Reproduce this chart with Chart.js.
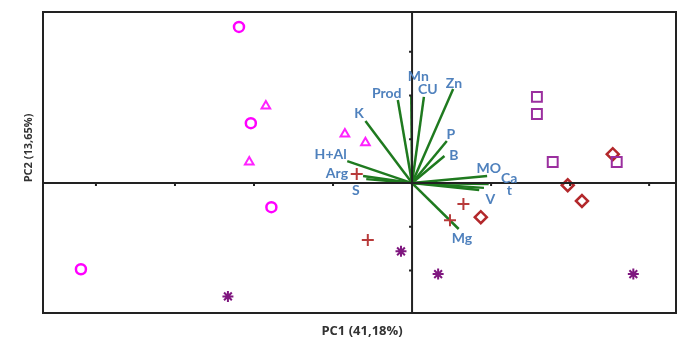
<!DOCTYPE html>
<html>
<head>
<meta charset="utf-8">
<script src="https://cdn.jsdelivr.net/npm/chart.js@4"></script>
<style>
  html, body { margin: 0; padding: 0; background: #fff; }
  #wrap { width: 681px; height: 341px; }
</style>
</head>
<body>
<div id="wrap"><canvas id="c" width="681" height="341"></canvas></div>
<script>
// scores (PC1, PC2) by group
const circleX = [-2.19, -2.04, -1.78, -4.19];
const circleY = [3.57, 1.37, -0.55, -1.97];
const triangleX = [-1.85, -2.06, -0.85, -0.59];
const triangleY = [1.76, 0.48, 1.12, 0.92];
const squareX = [1.58, 1.58, 1.78, 2.59];
const squareY = [1.97, 1.58, 0.48, 0.48];
const diamondX = [2.54, 1.97, 2.15, 0.87];
const diamondY = [0.66, -0.05, -0.41, -0.78];
const plusX = [-0.70, -0.56, 0.65, 0.48];
const plusY = [0.21, -1.30, -0.48, -0.85];
const starX = [-0.14, 0.33, 2.80, -2.33];
const starY = [-1.56, -2.08, -2.08, -2.59];

// loadings (vectors)
const varNames = ["Prod", "Mn", "CU", "Zn", "K", "H+Al", "Arg", "S", "P", "B", "MO", "Ca", "t", "V", "Mg"];
const vecX = [-0.18, -0.01, 0.15, 0.52, -0.59, -0.82, -0.62, -0.58, 0.44, 0.41, 0.95, 0.97, 0.91, 0.85, 0.59];
const vecY = [1.90, 2.01, 1.97, 2.15, 1.42, 0.50, 0.16, 0.09, 0.96, 0.62, 0.16, -0.02, -0.11, -0.16, -1.05];
const labelX = [-0.32, 0.08, 0.20, 0.53, -0.67, -1.03, -0.95, -0.71, 0.49, 0.53, 0.97, 1.23, 1.23, 0.99, 0.63];
const labelY = [2.04, 2.43, 2.15, 2.27, 1.58, 0.66, 0.21, -0.18, 1.12, 0.62, 0.34, 0.11, -0.18, -0.37, -1.26];

const xTicks = [-4, -3, -2, -1, 1, 2, 3];
const yTicks = [-2, -1, 1, 2, 3];

const pts = (xs, ys) => xs.map((x, i) => ({ x, y: ys[i] }));

function group(data, style, color, radius, bw) {
  return {
    type: "scatter",
    data,
    pointStyle: style,
    pointRadius: radius,
    pointBorderColor: color,
    pointBackgroundColor: "rgba(255,255,255,0)",
    pointBorderWidth: bw,
    showLine: false,
    order: 1,
  };
}

const datasets = [];
varNames.forEach((n, i) => {
  datasets.push({
    type: "line",
    data: [{ x: 0, y: 0 }, { x: vecX[i], y: vecY[i] }],
    borderColor: "#1f7a1f",
    borderWidth: 2.5,
    pointRadius: 0,
    order: 2,
  });
});
datasets.push(group(pts(circleX, circleY), "circle", "#ff00ff", 5, 2.5));
datasets.push(group(pts(triangleX, triangleY), "triangle", "#ff22ff", 5, 2));
datasets.push(group(pts(squareX, squareY), "rect", "#9b2f9f", 7, 2));
datasets.push(group(pts(diamondX, diamondY), "rectRot", "#b3282b", 6, 2.5));
datasets.push(group(pts(plusX, plusY), "cross", "#b83a3a", 6, 2));
datasets.push(group(pts(starX, starY), "star", "#7f177f", 5.5, 2));

// frame, zero axes, tick marks, labels and axis titles
const decor = {
  id: "decor",
  afterDatasetsDraw(chart) {
    const { ctx, chartArea: a, scales } = chart;
    const x0 = scales.x.getPixelForValue(0);
    const y0 = scales.y.getPixelForValue(0);
    ctx.save();
    ctx.strokeStyle = "#222";
    ctx.lineWidth = 2;
    ctx.strokeRect(a.left, a.top, a.right - a.left, a.bottom - a.top);
    ctx.beginPath();
    ctx.moveTo(a.left, y0); ctx.lineTo(a.right, y0);
    ctx.moveTo(x0, a.top); ctx.lineTo(x0, a.bottom);
    ctx.stroke();
    ctx.lineWidth = 2;
    ctx.beginPath();
    xTicks.forEach((v) => {
      const px = scales.x.getPixelForValue(v);
      ctx.moveTo(px, y0); ctx.lineTo(px, y0 + 3);
    });
    yTicks.forEach((v) => {
      const py = scales.y.getPixelForValue(v);
      ctx.moveTo(x0, py); ctx.lineTo(x0 - 3, py);
    });
    ctx.stroke();

    ctx.fillStyle = "#4f81bd";
    ctx.font = "bold 14px Lato";
    ctx.textAlign = "center";
    ctx.textBaseline = "middle";
    varNames.forEach((n, i) => {
      ctx.fillText(n, scales.x.getPixelForValue(labelX[i]), scales.y.getPixelForValue(labelY[i]));
    });

    ctx.fillStyle = "#333";
    ctx.font = "bold 13px 'Open Sans'";
    ctx.fillText("PC1 (41,18%)", 362, 331);
    ctx.translate(29, 148);
    ctx.rotate(-Math.PI / 2);
    ctx.font = "bold 11px 'Open Sans'";
    ctx.fillText("PC2 (13,65%)", 0, 0);
    ctx.restore();
  },
};

new Chart(document.getElementById("c"), {
  data: { datasets },
  options: {
    responsive: false,
    animation: false,
    layout: { autoPadding: false, padding: { left: 43, right: 5, top: 12, bottom: 28 } },
    plugins: { legend: { display: false }, tooltip: { enabled: false } },
    scales: {
      x: { type: "linear", display: false, min: -4.67, max: 3.34 },
      y: { type: "linear", display: false, min: -2.97, max: 3.91 },
    },
  },
  plugins: [decor],
});
</script>
</body>
</html>
